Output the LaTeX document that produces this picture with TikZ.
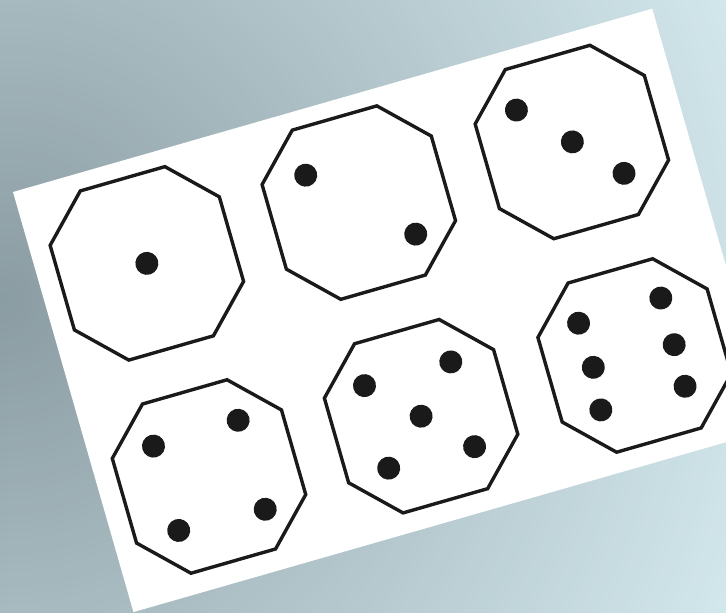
\documentclass[tikz,border=0pt]{standalone}
\definecolor{bgA}{HTML}{8A9CA2}
\definecolor{bgB}{HTML}{D2E7EC}
\definecolor{inkc}{HTML}{1A1A1A}
\begin{document}
\begin{tikzpicture}[x=1pt,y=-1pt,
  octo/.style={draw=inkc, line width=3.4, line join=miter, fill=white},
  pip/.style={fill=inkc},
  octagon/.pic={\draw[octo] (-44,-88) -- (44,-88) -- (88,-44) -- (88,44) -- (44,88) -- (-44,88) -- (-88,44) -- (-88,-44) -- cycle;}]
\useasboundingbox (0,0) rectangle (726,613);
\begin{scope}
  \clip (0,0) rectangle (726,613);
  \foreach \i in {0,...,99} {
    \pgfmathsetmacro{\rr}{800-8*\i}
    \pgfmathsetmacro{\pp}{min(100,\rr/7.9)}
    \fill[bgB!\pp!bgA] (0,300) circle (\rr);
  }
  \begin{scope}[shift={(13,192)}, rotate=16]
    % card
    \fill[white] (0,0) rectangle (665,437);
    % die 1
    \begin{scope}[shift={(109,105.5)}]
      \pic[transform shape] {octagon};
      \fill[pip] (0,0) circle (11.5);
    \end{scope}
    % die 2
    \begin{scope}[shift={(329.5,105.5)}]
      \pic[transform shape] {octagon};
      \fill[pip] (-43.5,-41) circle (11.5);
      \fill[pip] (46,46) circle (11.5);
    \end{scope}
    % die 3
    \begin{scope}[shift={(551,106)}]
      \pic[transform shape] {octagon};
      \fill[pip] (-44.5,-46) circle (11.5);
      \fill[pip] (0.5,0) circle (11.5);
      \fill[pip] (41.5,44.5) circle (11.5);
    \end{scope}
    % die 4
    \begin{scope}[shift={(110,327.5)}]
      \pic[transform shape] {octagon};
      \fill[pip] (-45,-44.5) circle (11.5);
      \fill[pip] (43.5,-46) circle (11.5);
      \fill[pip] (45,47) circle (11.5);
      \fill[pip] (-44,43.5) circle (11.5);
    \end{scope}
    % die 5
    \begin{scope}[shift={(330.5,328)}]
      \pic[transform shape] {octagon};
      \fill[pip] (-46,-45) circle (11.5);
      \fill[pip] (43.5,-44) circle (11.5);
      \fill[pip] (0,0) circle (11.5);
      \fill[pip] (43,44) circle (11.5);
      \fill[pip] (-45.5,41) circle (11.5);
    \end{scope}
    % die 6
    \begin{scope}[shift={(552.5,328.5)}]
      \pic[transform shape] {octagon};
      \fill[pip] (-45,-46.5) circle (11.5);
      \fill[pip] (-43,0) circle (11.5);
      \fill[pip] (-47.5,43) circle (11.5);
      \fill[pip] (41,-48) circle (11.5);
      \fill[pip] (41,0.5) circle (11.5);
      \fill[pip] (40,43.5) circle (11.5);
    \end{scope}
  \end{scope}
\end{scope}
\end{tikzpicture}
\end{document}
